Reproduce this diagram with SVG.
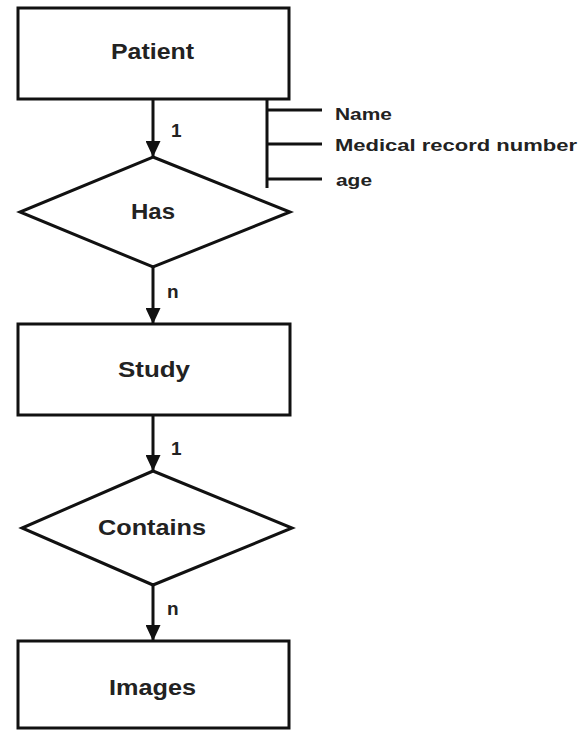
<svg xmlns="http://www.w3.org/2000/svg" width="584" height="730" viewBox="0 0 584 730">
<style>
.shape{fill:#fff;stroke:#111;stroke-width:3}
.line{fill:none;stroke:#111;stroke-width:3}
.lbl{font-family:"Liberation Sans",Arial,sans-serif;font-weight:bold;font-size:22px;fill:#222}
.attr{font-family:"Liberation Sans",Arial,sans-serif;font-weight:bold;font-size:17px;fill:#222}
.card{font-family:"Liberation Sans",Arial,sans-serif;font-weight:bold;font-size:19px;fill:#222}
</style>
<defs>
<marker id="arr" markerUnits="userSpaceOnUse" markerWidth="16" markerHeight="15" refX="16" refY="7.5" orient="auto">
<path d="M0,0 L16,7.5 L0,15 Z" fill="#111"/>
</marker>
</defs>
<rect width="584" height="730" fill="#fff"/>
<g id="connectors">
<line class="line" x1="153" y1="99" x2="153" y2="157" marker-end="url(#arr)"/>
<line class="line" x1="153" y1="267" x2="153" y2="324" marker-end="url(#arr)"/>
<line class="line" x1="153" y1="415" x2="153" y2="471" marker-end="url(#arr)"/>
<line class="line" x1="153" y1="585" x2="153" y2="641" marker-end="url(#arr)"/>
<text class="card" x="171" y="137">1</text>
<text class="card" x="167" y="298">n</text>
<text class="card" x="171" y="455">1</text>
<text class="card" x="167" y="615">n</text>
</g>
<g id="patient">
<rect class="shape" x="18" y="8" width="271" height="91"/>
<text class="lbl" x="111" y="59" textLength="83" lengthAdjust="spacingAndGlyphs">Patient</text>
</g>
<g id="attributes">
<path class="line" d="M267,99 V188 M267,110 H322 M267,144 H322 M267,179 H322"/>
<text class="attr" x="335" y="120" textLength="57" lengthAdjust="spacingAndGlyphs">Name</text>
<text class="attr" x="335" y="151" textLength="242" lengthAdjust="spacingAndGlyphs">Medical record number</text>
<text class="attr" x="336" y="186" textLength="36" lengthAdjust="spacingAndGlyphs">age</text>
</g>
<g id="has">
<polygon class="shape" points="153,157 290,212 153,267 20,212"/>
<text class="lbl" x="131" y="219" textLength="44" lengthAdjust="spacingAndGlyphs">Has</text>
</g>
<g id="study">
<rect class="shape" x="18" y="324" width="272" height="91"/>
<text class="lbl" x="118" y="377" textLength="72" lengthAdjust="spacingAndGlyphs">Study</text>
</g>
<g id="contains">
<polygon class="shape" points="153,471 292,528 153,585 22,528"/>
<text class="lbl" x="98" y="535" textLength="108" lengthAdjust="spacingAndGlyphs">Contains</text>
</g>
<g id="images">
<rect class="shape" x="18" y="641" width="271" height="87"/>
<text class="lbl" x="109" y="695" textLength="87" lengthAdjust="spacingAndGlyphs">Images</text>
</g>
</svg>
